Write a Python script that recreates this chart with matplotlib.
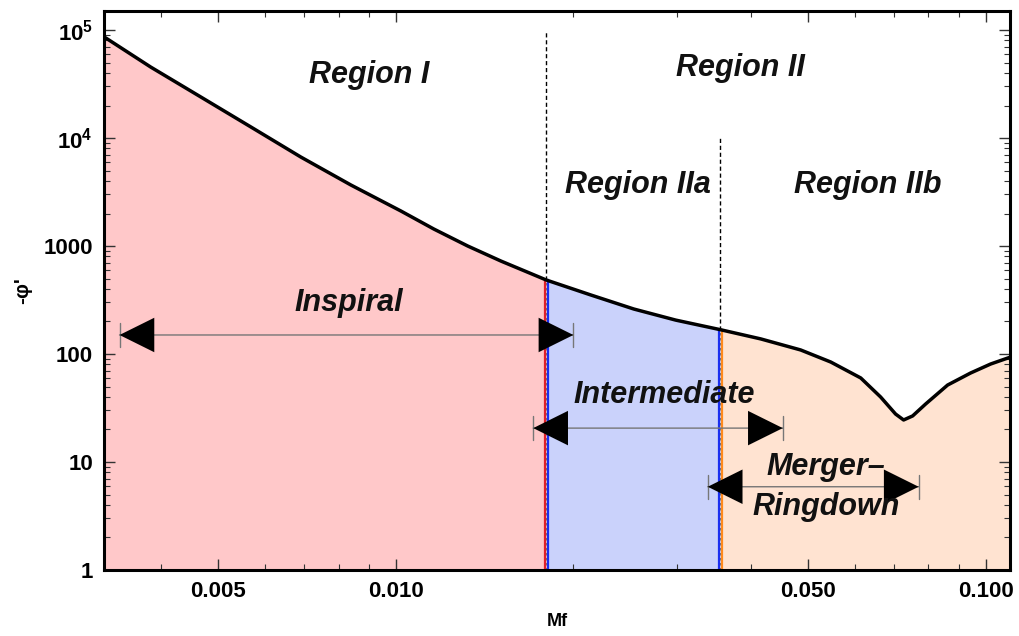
import matplotlib
matplotlib.use('Agg')
import matplotlib.pyplot as plt
import matplotlib.transforms as mtransforms
from matplotlib.ticker import FixedLocator, LogLocator, NullFormatter
import numpy as np

plt.rcParams['font.family'] = ['Liberation Sans', 'DejaVu Sans']
plt.rcParams['font.weight'] = 'bold'
plt.rcParams['mathtext.fontset'] = 'custom'
plt.rcParams['mathtext.rm'] = 'Liberation Sans:bold'
plt.rcParams['mathtext.it'] = 'Liberation Sans:bold:italic'

# -phi'(Mf)
mf = [0.00320, 0.00384, 0.00467, 0.00568, 0.00690, 0.00839, 0.01020, 0.01160,
      0.01324, 0.01507, 0.01800, 0.02141, 0.02532, 0.02983, 0.03550, 0.04156,
      0.04858, 0.05463, 0.06142, 0.06637, 0.07037, 0.07261, 0.07521, 0.07911,
      0.08622, 0.09432, 0.10200, 0.11030]
dphi = [86500, 45400, 23980, 12640, 6668, 3673, 2109, 1436,
        1000, 726, 484, 352, 261, 206, 168, 138,
        109, 84.3, 60, 40, 27.8, 24.5, 26.7, 34.4,
        51.6, 66.7, 80.8, 93.8]

# region boundaries and the top of their dashed markers
f_bounds = [0.018, 0.0355]
dash_tops = [1.0e5, 1.0e4]

region_colors = ['#FFC8C9', '#CAD2FB', '#FFE3D1']
edge_left = ['#E0202A', '#1B2FF0']
edge_right = ['#1B2FF0', '#FF8A1C']

region_labels = ['Region I', 'Region II', 'Region IIa', 'Region IIb']
region_pos = [(0.0090, 38300), (0.0384, 44500), (0.0257, 3670), (0.0631, 3670)]

# arrow spans: (label, Mf start, Mf end, level, label position)
spans = [
    ('Inspiral', 0.0034, 0.0200, 150, (0.00833, 296)),
    ('Intermediate', 0.0171, 0.0453, 20.6, (0.0285, 41.7)),
    ('Merger\u2013\nRingdown', 0.0338, 0.0770, 5.9, (0.0536, 5.9)),
]

xticks = [0.005, 0.010, 0.050, 0.100]
xticklabels = ['0.005', '0.010', '0.050', '0.100']
yticks = [1, 10, 100, 1000, 1e4, 1e5]
yticklabels = ['1', '10', '100', '1000', r'$10^{4}$', r'$10^{5}$']

fig = plt.figure(figsize=(10.2, 6.36), dpi=100)
ax = fig.add_axes([104 / 1020, 1 - 570 / 636, 906 / 1020, 559 / 636])
ax.set_xscale('log')
ax.set_yscale('log')
ax.set_xlim(0.0032, 0.110)
ax.set_ylim(1, 1.5e5)

mf_arr = np.array(mf)
dphi_arr = np.array(dphi)
edges = [mf_arr[0]] + f_bounds + [mf_arr[-1]]
for i, col in enumerate(region_colors):
    m = (mf_arr >= edges[i] - 1e-9) & (mf_arr <= edges[i + 1] + 1e-9)
    ax.fill_between(mf_arr[m], 1, dphi_arr[m], color=col, lw=0, zorder=1)

# coloured edges at each boundary, plus dashed markers above the curve
shift_l = mtransforms.offset_copy(ax.transData, fig=fig, x=-1.2, y=0, units='dots')
shift_r = mtransforms.offset_copy(ax.transData, fig=fig, x=1.2, y=0, units='dots')
for fb, top, cl, cr in zip(f_bounds, dash_tops, edge_left, edge_right):
    yb = dphi_arr[np.argmin(np.abs(mf_arr - fb))]
    ax.plot([fb, fb], [1, yb], color=cl, lw=1.6, transform=shift_l, zorder=2)
    ax.plot([fb, fb], [1, yb], color=cr, lw=1.6, transform=shift_r, zorder=2)
    ax.plot([fb, fb], [yb, top], color='black', lw=1.0, ls=(0, (3, 2)), zorder=2)
    ax.plot([fb, fb], [1, yb], color='black', lw=0.6, ls=(0, (3, 3)), alpha=0.5, zorder=2)

ax.plot(mf, dphi, color='black', lw=2.5, zorder=3,
        solid_joinstyle='round', solid_capstyle='round')

txt_style = dict(fontsize=22, fontweight='bold', fontstyle='italic', color='#111111',
                 ha='center', va='center', zorder=6)
for lab, (x, y) in zip(region_labels, region_pos):
    ax.text(x, y, lab, **txt_style)

for lab, x0, x1, lev, (tx, ty) in spans:
    ax.annotate('', xy=(x1, lev), xytext=(x0, lev),
                arrowprops=dict(arrowstyle='|-|,widthA=0.85,widthB=0.85', color='#777777',
                                lw=1.0, shrinkA=0, shrinkB=0), zorder=4)
    ax.annotate('', xy=(x1, lev), xytext=(x0, lev),
                arrowprops=dict(arrowstyle='<|-|>,head_length=1.25,head_width=0.62',
                                mutation_scale=20, color='black', lw=0.01,
                                shrinkA=0, shrinkB=0), zorder=5)
    ax.text(tx, ty, lab, linespacing=1.45, **txt_style)

ax.xaxis.set_major_locator(FixedLocator(xticks))
ax.set_xticklabels(xticklabels)
ax.xaxis.set_minor_locator(LogLocator(base=10, subs=np.arange(2, 10)))
ax.xaxis.set_minor_formatter(NullFormatter())
ax.yaxis.set_major_locator(FixedLocator(yticks))
ax.set_yticklabels(yticklabels)
ax.yaxis.set_minor_locator(LogLocator(base=10, subs=np.arange(2, 10)))
ax.yaxis.set_minor_formatter(NullFormatter())

ax.tick_params(which='both', direction='in', top=True, right=True, color='#333333',
               labelsize=16, pad=8)
ax.tick_params(which='major', length=8, width=1.0)
ax.tick_params(which='minor', length=4, width=0.8)
for lbl in ax.get_xticklabels() + ax.get_yticklabels():
    lbl.set_fontweight('bold')
for sp in ax.spines.values():
    sp.set_linewidth(2.2)
    sp.set_zorder(7)

ax.set_xlabel('Mf', fontsize=13, fontweight='bold', labelpad=8)
ax.set_ylabel("-\u03c6'", fontsize=15, fontweight='bold', labelpad=8)

fig.savefig('out.png', dpi=100, facecolor='white')
plt.close(fig)
